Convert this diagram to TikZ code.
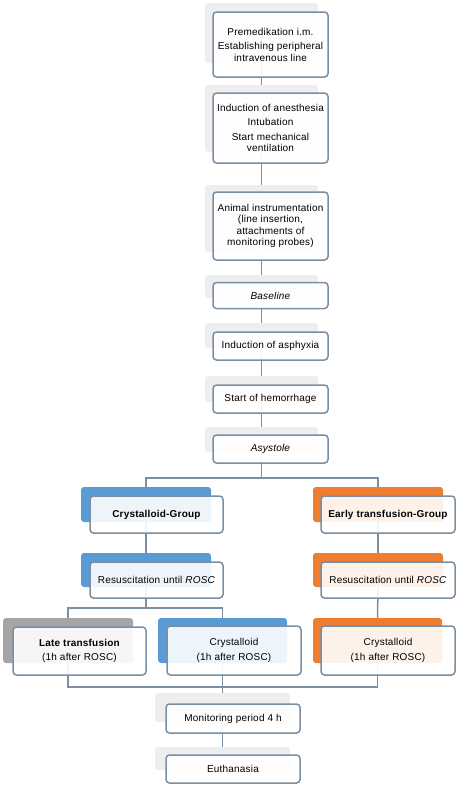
\documentclass[tikz,border=0pt]{standalone}
\usepackage{fontspec}
\setmainfont[LetterSpace=2]{Liberation Sans}
\usetikzlibrary{backgrounds}
\definecolor{linec}{RGB}{122,143,163}
\definecolor{shadeg}{RGB}{238,238,238}
\definecolor{accblue}{RGB}{91,155,213}
\definecolor{accorange}{RGB}{237,125,49}
\definecolor{accgrey}{RGB}{165,165,165}
\tikzset{
  backbox/.style={fill=shadeg, rounded corners=3pt, inner sep=0pt, minimum width=113pt},
  frontbox/.style={draw=linec, line width=1.5pt, rounded corners=3.5pt, fill=white, fill opacity=0.9,
    text opacity=1, align=center, inner sep=0pt, minimum width=115pt, font=\fontsize{10}{11.5}\selectfont},
  link/.style={draw=linec, line width=1.5pt}
}

\begin{document}
\begin{tikzpicture}[x=1pt, y=-1pt]
				\useasboundingbox (0,0) rectangle (459,788);

				% Main column
				\foreach \n/\by/\bh/\fy/\fh/\txt in {
					pre/33/60/44.5/65/{Premedikation i.m.\\[3pt]Establishing peripheral\\intravenous line},
					ind/118.5/67/128/70/{Induction of anesthesia\\[3pt]Intubation\\[3pt]Start mechanical\\ventilation},
					ins/218.5/67/226/68/{Animal instrumentation\\(line insertion,\\attachments of\\monitoring probes)},
					base/286.5/23/295.5/26/{\textit{Baseline}},
					asph/335.5/25/346/28/{Induction of asphyxia},
					hem/389/26/399/28/{Start of hemorrhage},
					asys/439.5/25/449/28/{\textit{Asystole}}} {
					\node[backbox, minimum height=\bh pt] (bg\n) at (261.5,\by) {};
					\node[frontbox, minimum height=\fh pt] (\n) at (270.5,\fy) {\txt};
				}

				% Crystalloid branch
				\node[backbox, fill=accblue, minimum width=130pt, minimum height=35pt] (bgcg) at (146,504.5) {};
				\node[frontbox, minimum width=133pt, minimum height=37pt] (cg) at (156.5,514.5) {\textbf{Crystalloid-Group}};
				\node[backbox, fill=accblue, minimum width=130pt, minimum height=34pt] (bgcr) at (146,570) {};
				\node[frontbox, minimum width=133pt, minimum height=36pt] (cr) at (156.5,580) {Resuscitation until \textit{ROSC}};
				\node[backbox, fill=accgrey, minimum width=130pt, minimum height=45pt] (bglate) at (68,640.5) {};
				\node[frontbox, minimum width=133pt, minimum height=48pt] (late) at (79.5,651) {\textbf{Late transfusion}\\[3pt](1h after ROSC)};
				\node[backbox, fill=accblue, minimum width=129pt, minimum height=45pt] (bgmid) at (222.5,640.5) {};
				\node[frontbox, minimum width=134pt, minimum height=49pt] (mid) at (234,650.5) {Crystalloid\\[3pt](1h after ROSC)};

				% Early transfusion branch
				\node[backbox, fill=accorange, minimum width=130pt, minimum height=35pt] (bgeg) at (378,504.5) {};
				\node[frontbox, minimum width=134pt, minimum height=37pt] (eg) at (388,514.5) {\textbf{Early transfusion-Group}};
				\node[backbox, fill=accorange, minimum width=130pt, minimum height=34pt] (bger) at (378,570) {};
				\node[frontbox, minimum width=134pt, minimum height=36pt] (er) at (388,580) {Resuscitation until \textit{ROSC}};
				\node[backbox, fill=accorange, minimum width=129pt, minimum height=45pt] (bgoc) at (377.5,640.5) {};
				\node[frontbox, minimum width=134pt, minimum height=49pt] (oc) at (388,650.5) {Crystalloid\\[3pt](1h after ROSC)};

				% End
				\node[backbox, minimum width=135pt, minimum height=29pt] (bgmon) at (222.5,707.5) {};
				\node[frontbox, minimum width=134pt, minimum height=29pt] (mon) at (233,718.5) {Monitoring period 4 h};
				\node[backbox, minimum width=135pt, minimum height=23pt] (bgeuth) at (222.5,758.5) {};
				\node[frontbox, minimum width=134pt, minimum height=28pt] (euth) at (233,769) {Euthanasia};

				% Connectors
				\begin{pgfonlayer}{background}
					\foreach \a/\b in {pre/ind, ind/ins, ins/base, base/asph, asph/hem, hem/asys, cg/cr, eg/er, er/oc, mid/mon, mon/euth}
						\draw[link] (bg\a.south) -- (bg\b.north);
					\draw[link] (bgasys.south) -- ++(0,26) -| (bgcg.north);
					\draw[link] (bgasys.south) -- ++(0,26) -| (bgeg.north);
					\draw[link] (bgcr.south) -- ++(0,21) -| (bglate.north);
					\draw[link] (bgcr.south) -- ++(0,21) -| (bgmid.north);
					\draw[link] (bglate.south) -- ++(0,24) -| (bgmon.north);
					\draw[link] (bgoc.south) -- ++(0,24) -| (bgmon.north);
				\end{pgfonlayer}
			\end{tikzpicture}
\end{document}
